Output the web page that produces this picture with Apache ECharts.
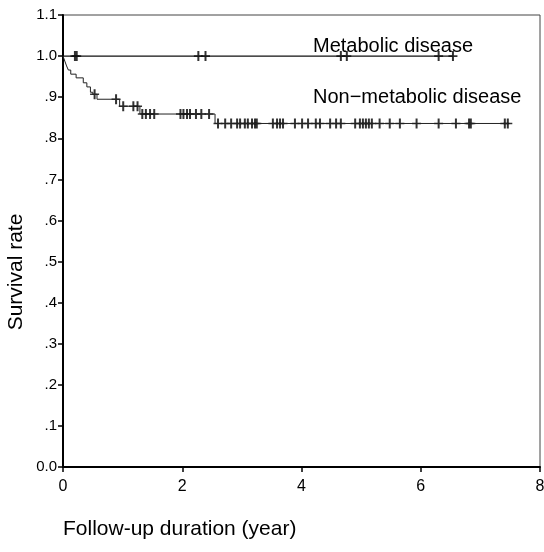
<!DOCTYPE html>
<html>
<head>
<meta charset="utf-8">
<script src="https://cdn.jsdelivr.net/npm/echarts@6/dist/echarts.min.js"></script>
<style>
html,body{margin:0;padding:0;background:#fff;}
#chart{width:544px;height:552px;}
</style>
</head>
<body>
<div id="chart"></div>
<script>
// ---- data ----
const yTicks = [0, 0.1, 0.2, 0.3, 0.4, 0.5, 0.6, 0.7, 0.8, 0.9, 1.0, 1.1];
const xTicks = [0, 2, 4, 6, 8];

const metaT = [0, 6.55];
const metaS = [1.0, 1.0];
const metaCensor = [0.20, 0.23, 2.27, 2.39, 4.66, 4.76, 6.30, 6.54];

const nonT = [0, 0.03, 0.06, 0.09, 0.13, 0.22, 0.34, 0.40, 0.46, 0.50, 0.57, 0.95, 1.29, 2.55, 7.47];
const nonS = [1.0, 0.988, 0.976, 0.966, 0.956, 0.947, 0.935, 0.925, 0.912, 0.907, 0.895, 0.878, 0.859, 0.836, 0.836];
const nonCensor = [0.53, 0.89, 1.01, 1.18, 1.25, 1.33, 1.39, 1.46, 1.53, 1.97, 2.02, 2.08, 2.13, 2.23, 2.32, 2.45,
  2.60, 2.72, 2.82, 2.92, 2.97, 3.05, 3.10, 3.17, 3.22, 3.25, 3.52, 3.59, 3.64, 3.69, 3.89, 4.01, 4.11, 4.24, 4.31,
  4.48, 4.58, 4.66, 4.90, 4.98, 5.03, 5.08, 5.13, 5.18, 5.31, 5.48, 5.65, 5.93, 6.30, 6.59, 6.81, 6.84, 7.41, 7.46];

const seriesNames = ['Metabolic disease', 'Non−metabolic disease'];
const xTitle = 'Follow-up duration (year)';
const yTitle = 'Survival rate';

// ---- helpers ----
function stepAt(T, S, t) {
  let v = S[0];
  for (let i = 0; i < T.length; i++) { if (T[i] <= t) v = S[i]; }
  return v;
}
const zip = (T, S) => T.map((t, i) => [t, S[i]]);
const censorPts = (C, T, S) => C.map(t => [t, stepAt(T, S, t)]);

const plus = 'path://M3.5,0h2v10h-2z M0,4.2h9v1.6h-9z';
const FONT = '"Liberation Sans", Arial, sans-serif';

const chart = echarts.init(document.getElementById('chart'), null, {renderer: 'canvas'});
chart.setOption({
  animation: false,
  backgroundColor: '#fff',
  grid: {left: 63, right: 4, top: 15, bottom: 85, show: true, borderColor: '#444', borderWidth: 1,
    containLabel: false, outerBoundsMode: 'none'},
  xAxis: {
    type: 'value', min: 0, max: 8, interval: 2,
    axisLine: {show: true, onZero: false, lineStyle: {color: '#000', width: 2}},
    axisTick: {show: true, length: 5, lineStyle: {color: '#000', width: 1.5}},
    axisLabel: {color: '#000', fontSize: 16, fontFamily: FONT, margin: 12},
    splitLine: {show: false},
    name: xTitle, nameLocation: 'start', nameGap: 0,
    nameTextStyle: {color: '#000', fontSize: 21, fontFamily: FONT, align: 'left', verticalAlign: 'top', padding: [52, 0, 0, 0]}
  },
  yAxis: {
    type: 'value', min: 0, max: 1.1, interval: 0.1,
    axisLine: {show: true, onZero: false, lineStyle: {color: '#000', width: 2}},
    axisTick: {show: true, length: 5, lineStyle: {color: '#000', width: 1.5}},
    axisLabel: {color: '#000', fontSize: 15, fontFamily: FONT, margin: 6,
      formatter: v => {
        const r = Math.round(v * 10) / 10;
        if (r > 0 && r < 1) return '.' + Math.round(r * 10);
        return r.toFixed(1);
      }},
    splitLine: {show: false}
  },
  series: [
    {name: seriesNames[0], type: 'line', step: 'end', data: zip(metaT, metaS), symbol: 'none',
      lineStyle: {color: '#111', width: 1.2}},
    {name: seriesNames[1], type: 'line', step: 'end', data: zip(nonT, nonS), symbol: 'none',
      lineStyle: {color: '#222', width: 1}},
    {type: 'scatter', data: censorPts(metaCensor, metaT, metaS), symbol: plus, symbolSize: [9, 10],
      itemStyle: {color: '#000'}},
    {type: 'scatter', data: censorPts(nonCensor, nonT, nonS), symbol: plus, symbolSize: [9, 10],
      itemStyle: {color: '#000'}}
  ],
  graphic: [
    {type: 'text', left: 313, top: 36, style: {text: seriesNames[0], fill: '#000', font: '20px ' + FONT}},
    {type: 'text', left: 313, top: 87, style: {text: seriesNames[1], fill: '#000', font: '20px ' + FONT}},
    {type: 'text', x: 16, y: 272, rotation: Math.PI / 2,
      style: {text: yTitle, fill: '#000', font: '21px ' + FONT, align: 'center', verticalAlign: 'middle'}}
  ]
});
</script>
</body>
</html>
